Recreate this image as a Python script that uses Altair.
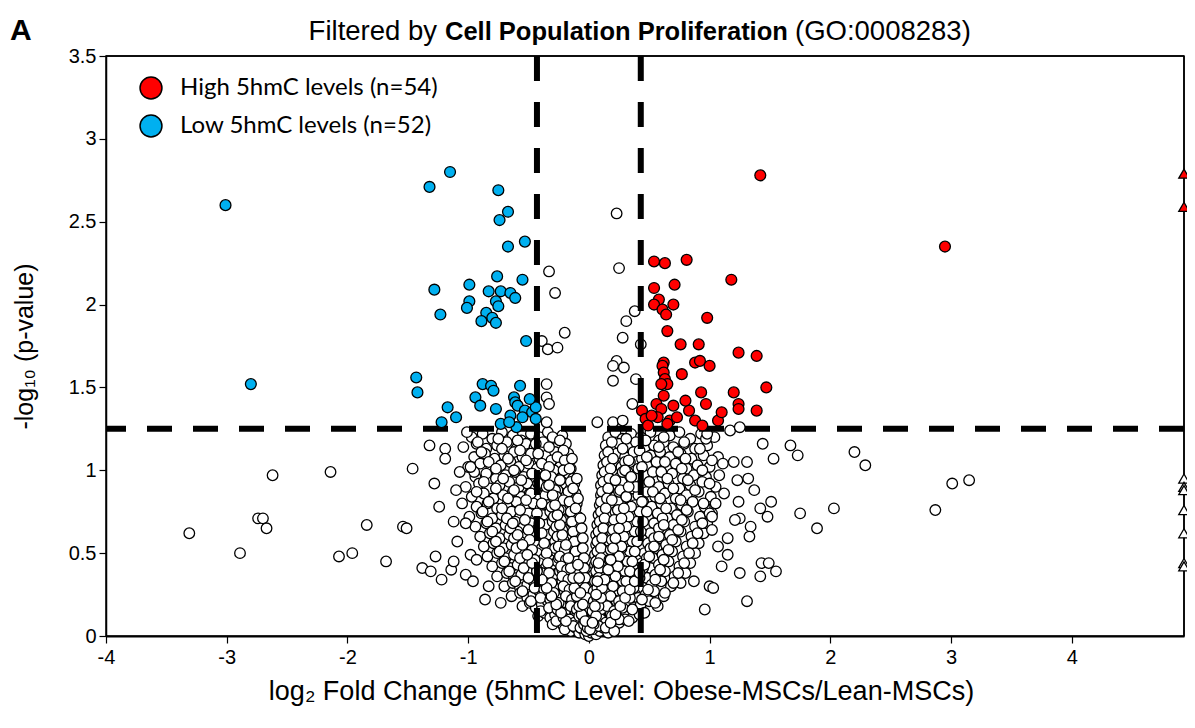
import altair as alt
import pandas as pd

# ---------------- values ----------------
X_DOMAIN = [-4, 4.93]
Y_DOMAIN = [0, 3.5]
X_TICKS = [-4, -3, -2, -1, 0, 1, 2, 3, 4]
Y_TICKS = [0, 0.5, 1, 1.5, 2, 2.5, 3, 3.5]
P_THRESHOLD = 1.25
FC_THRESHOLDS = [-0.43, 0.43]

HIGH_LABEL = "High 5hmC levels (n=54)"
LOW_LABEL = "Low 5hmC levels (n=52)"

HIGH = [
    (1.42, 2.78), (1.18, 2.15), (0.54, 2.26), (0.63, 2.25), (0.81, 2.27),
    (0.54, 2.10), (0.71, 2.12), (0.58, 2.03), (0.54, 2.00), (0.61, 1.97),
    (0.70, 2.00), (0.64, 1.94), (0.98, 1.92), (0.65, 1.84), (0.76, 1.76),
    (0.91, 1.76), (1.24, 1.71), (1.39, 1.69), (0.62, 1.65), (0.61, 1.63),
    (0.88, 1.65), (0.92, 1.66), (1.00, 1.63), (0.77, 1.58), (0.62, 1.59),
    (0.63, 1.55), (0.65, 1.52), (0.60, 1.52), (1.47, 1.50), (0.93, 1.47),
    (1.20, 1.47), (0.97, 1.40), (1.24, 1.40), (1.24, 1.37), (1.39, 1.36),
    (0.56, 1.40), (0.60, 1.37), (0.70, 1.39), (0.83, 1.36), (0.44, 1.36),
    (0.47, 1.31), (0.57, 1.32), (0.67, 1.30), (0.88, 1.30), (1.07, 1.30),
    (0.49, 1.27), (0.65, 1.28), (0.94, 1.27), (2.95, 2.35), (0.52, 1.33),
    (0.73, 1.32), (0.80, 1.42), (1.10, 1.35), (0.62, 1.45),
]

LOW = [
    (-1.15, 2.80), (-1.32, 2.71), (-0.75, 2.69), (-0.67, 2.56), (-0.74, 2.51),
    (-0.53, 2.38), (-0.67, 2.35), (-0.76, 2.17), (-0.55, 2.15), (-1.28, 2.09),
    (-0.99, 2.12), (-0.83, 2.08), (-0.73, 2.08), (-0.65, 2.07), (-0.61, 2.04),
    (-0.77, 2.02), (-0.75, 1.99), (-0.99, 2.02), (-1.01, 1.98), (-1.23, 1.94),
    (-0.85, 1.95), (-0.80, 1.92), (-0.89, 1.90), (-0.77, 1.89), (-0.52, 1.78),
    (-1.43, 1.56), (-1.42, 1.47), (-0.88, 1.52), (-0.81, 1.51), (-0.79, 1.48),
    (-0.94, 1.44), (-0.57, 1.51), (-0.62, 1.44), (-0.90, 1.39), (-0.77, 1.37),
    (-0.61, 1.41), (-0.59, 1.39), (-0.53, 1.36), (-0.47, 1.35), (-0.44, 1.38),
    (-0.65, 1.33), (-0.55, 1.32), (-0.44, 1.31), (-1.17, 1.38), (-1.10, 1.32),
    (-1.22, 1.29), (-0.73, 1.28), (-0.60, 1.26), (-3.01, 2.60), (-2.80, 1.52),
    (-0.49, 1.43), (-0.66, 1.29),
]

# not significant, above the p threshold but inside the fold-change lines
NS_ABOVE = [
    (0.23, 2.55), (0.25, 2.22), (-0.33, 2.20), (-0.28, 2.07), (-0.20, 1.83),
    (-0.39, 1.78), (-0.34, 1.73), (-0.26, 1.74), (0.28, 1.80), (0.31, 1.90),
    (0.38, 1.96), (0.43, 1.76), (0.23, 1.66), (0.20, 1.63), (0.29, 1.62),
    (0.20, 1.54), (0.39, 1.55), (-0.35, 1.52), (-0.35, 1.44), (-0.33, 1.40),
    (0.36, 1.40), (-0.35, 1.29), (0.07, 1.29), (0.20, 1.29), (0.28, 1.30),
]

NS_LEFT_OUT = [
    (-3.31, 0.62), (-2.89, 0.50), (-2.74, 0.71), (-2.70, 0.71), (-2.67, 0.65),
    (-2.62, 0.97), (-2.14, 0.99), (-2.07, 0.48), (-1.96, 0.50), (-1.84, 0.67),
    (-1.68, 0.45), (-1.54, 0.66), (-1.51, 0.65), (-1.46, 1.01), (-1.38, 0.41),
    (-1.32, 1.15), (-1.28, 0.92), (-1.31, 0.39), (-1.27, 0.48), (-1.24, 0.78),
    (-1.22, 0.34), (-1.19, 1.13), (-1.19, 1.07), (-1.14, 0.40), (-1.12, 0.45),
    (-1.12, 0.69), (-1.10, 0.88), (-1.07, 0.99), (-1.02, 0.68), (-1.02, 0.37),
    (-0.98, 1.02), (-0.98, 0.49), (-0.96, 0.33), (-0.93, 0.46), (-0.83, 0.30),
    (-0.86, 0.22), (-0.73, 0.20), (-1.01, 1.23), (-1.09, 0.57), (-1.05, 0.80),
]

NS_RIGHT_OUT = [
    (1.44, 1.16), (1.67, 1.15), (1.53, 1.07), (1.31, 1.05), (1.20, 1.05),
    (1.23, 0.94), (1.32, 0.95), (1.37, 0.88), (1.51, 0.81), (1.42, 0.77),
    (1.48, 0.72), (1.24, 0.81), (1.25, 0.71), (1.21, 0.70), (1.34, 0.66),
    (1.33, 0.60), (1.02, 0.72), (1.02, 0.64), (1.15, 0.59), (1.07, 0.54),
    (1.10, 0.42), (1.25, 0.38), (1.43, 0.44), (1.49, 0.44), (1.55, 0.39),
    (1.42, 0.36), (1.31, 0.21), (0.96, 0.16), (1.00, 0.30), (1.03, 0.29),
    (0.87, 0.33), (1.11, 1.04), (1.17, 1.24), (1.25, 1.26), (0.98, 1.22),
    (1.73, 1.09), (2.20, 1.11), (2.29, 1.03), (1.75, 0.74), (1.89, 0.65),
    (2.03, 0.77), (2.87, 0.76), (3.01, 0.92), (3.15, 0.94), (1.12, 0.86),
    (1.15, 0.49), (1.08, 0.97),
]

NS_CLOUD_UPPER = [
    (-0.97, 1.20), (-0.88, 1.22), (-0.80, 1.19), (-0.72, 1.23), (-0.63, 1.21), (-0.56, 1.18),
    (-0.48, 1.22), (-0.41, 1.20), (-0.34, 1.23), (-0.28, 1.19), (-0.22, 1.21),
    (0.16, 1.20), (0.22, 1.23), (0.28, 1.19), (0.35, 1.22), (0.43, 1.20), (0.51, 1.23),
    (0.58, 1.18), (0.67, 1.21), (0.75, 1.23), (0.84, 1.19), (0.93, 1.22), (1.04, 1.20),
    (-1.04, 1.14), (-0.93, 1.16), (-0.85, 1.13), (-0.76, 1.15), (-0.68, 1.17), (-0.60, 1.13),
    (-0.52, 1.16), (-0.45, 1.14), (-0.38, 1.17), (-0.31, 1.13), (-0.25, 1.15), (-0.19, 1.16),
    (0.14, 1.15), (0.19, 1.13), (0.25, 1.16), (0.32, 1.14), (0.39, 1.17), (0.46, 1.13),
    (0.54, 1.15), (0.62, 1.17), (0.70, 1.14), (0.79, 1.16), (0.88, 1.13), (0.98, 1.15),
    (-0.95, 1.08), (-0.86, 1.10), (-0.78, 1.07), (-0.70, 1.09), (-0.62, 1.11), (-0.55, 1.08),
    (-0.48, 1.10), (-0.41, 1.07), (-0.35, 1.09), (-0.28, 1.11), (-0.22, 1.08), (-0.17, 1.10),
    (0.13, 1.09), (0.18, 1.07), (0.23, 1.10), (0.30, 1.08), (0.37, 1.11), (0.44, 1.07),
    (0.51, 1.09), (0.59, 1.11), (0.67, 1.08), (0.76, 1.10), (0.85, 1.07), (0.95, 1.09), (1.07, 1.08),
    (-1.00, 1.02), (-0.90, 1.04), (-0.81, 1.01), (-0.73, 1.03), (-0.65, 1.05), (-0.58, 1.02),
    (-0.50, 1.04), (-0.43, 1.01), (-0.37, 1.03), (-0.30, 1.05), (-0.24, 1.02), (-0.18, 1.04), (-0.15, 1.01),
    (0.12, 1.03), (0.16, 1.01), (0.21, 1.04), (0.27, 1.02), (0.34, 1.05), (0.41, 1.01),
    (0.48, 1.03), (0.56, 1.05), (0.64, 1.02), (0.72, 1.04), (0.81, 1.01), (0.90, 1.03), (1.00, 1.02),
    (-0.94, 0.96), (-0.85, 0.98), (-0.77, 0.95), (-0.69, 0.97), (-0.61, 0.99), (-0.54, 0.96),
    (-0.47, 0.98), (-0.40, 0.95), (-0.34, 0.97), (-0.28, 0.99), (-0.22, 0.96), (-0.17, 0.98), (-0.13, 0.95),
    (0.11, 0.97), (0.15, 0.95), (0.20, 0.98), (0.26, 0.96), (0.32, 0.99), (0.39, 0.95),
    (0.46, 0.97), (0.53, 0.99), (0.61, 0.96), (0.69, 0.98), (0.78, 0.95), (0.87, 0.97), (0.97, 0.96),
    (-1.02, 0.90), (-0.91, 0.92), (-0.82, 0.89), (-0.74, 0.91), (-0.66, 0.93), (-0.58, 0.90),
    (-0.51, 0.92), (-0.44, 0.89), (-0.38, 0.91), (-0.32, 0.93), (-0.26, 0.90), (-0.20, 0.92),
    (-0.15, 0.89), (-0.12, 0.92),
    (0.10, 0.91), (0.14, 0.89), (0.19, 0.92), (0.24, 0.90), (0.30, 0.93), (0.36, 0.89),
    (0.43, 0.91), (0.50, 0.93), (0.58, 0.90), (0.66, 0.92), (0.75, 0.89), (0.84, 0.91), (0.94, 0.93), (1.05, 0.90),
]

NS_CLOUD_MIDDLE = [
    (-0.97, 0.84), (-0.87, 0.86), (-0.79, 0.83), (-0.71, 0.85), (-0.63, 0.87), (-0.56, 0.84),
    (-0.49, 0.86), (-0.42, 0.83), (-0.36, 0.85), (-0.30, 0.87), (-0.24, 0.84), (-0.19, 0.86),
    (-0.14, 0.83), (-0.11, 0.86),
    (0.10, 0.85), (0.13, 0.83), (0.17, 0.86), (0.22, 0.84), (0.28, 0.87), (0.34, 0.83),
    (0.41, 0.85), (0.48, 0.87), (0.55, 0.84), (0.63, 0.86), (0.72, 0.83), (0.81, 0.85), (0.91, 0.87), (1.01, 0.84),
    (-0.93, 0.78), (-0.84, 0.80), (-0.76, 0.77), (-0.68, 0.79), (-0.60, 0.81), (-0.53, 0.78),
    (-0.46, 0.80), (-0.40, 0.77), (-0.34, 0.79), (-0.28, 0.81), (-0.23, 0.78), (-0.18, 0.80),
    (-0.13, 0.77), (-0.10, 0.80),
    (0.09, 0.79), (0.12, 0.77), (0.16, 0.80), (0.21, 0.78), (0.26, 0.81), (0.32, 0.77),
    (0.38, 0.79), (0.45, 0.81), (0.52, 0.78), (0.60, 0.80), (0.68, 0.77), (0.77, 0.79), (0.86, 0.81), (0.96, 0.78), (1.05, 0.80),
    (-0.99, 0.72), (-0.89, 0.74), (-0.80, 0.71), (-0.72, 0.73), (-0.64, 0.75), (-0.57, 0.72),
    (-0.50, 0.74), (-0.44, 0.71), (-0.38, 0.73), (-0.32, 0.75), (-0.26, 0.72), (-0.21, 0.74),
    (-0.16, 0.71), (-0.12, 0.74), (-0.09, 0.72),
    (0.08, 0.73), (0.11, 0.71), (0.15, 0.74), (0.19, 0.72), (0.24, 0.75), (0.30, 0.71),
    (0.36, 0.73), (0.42, 0.75), (0.49, 0.72), (0.57, 0.74), (0.65, 0.71), (0.73, 0.73), (0.82, 0.75), (0.92, 0.72), (1.02, 0.74),
    (-0.94, 0.66), (-0.85, 0.68), (-0.77, 0.65), (-0.69, 0.67), (-0.61, 0.69), (-0.54, 0.66),
    (-0.48, 0.68), (-0.42, 0.65), (-0.36, 0.67), (-0.30, 0.69), (-0.25, 0.66), (-0.20, 0.68),
    (-0.15, 0.65), (-0.11, 0.68), (-0.08, 0.66),
    (0.07, 0.67), (0.10, 0.65), (0.14, 0.68), (0.18, 0.66), (0.23, 0.69), (0.28, 0.65),
    (0.34, 0.67), (0.40, 0.69), (0.47, 0.66), (0.54, 0.68), (0.62, 0.65), (0.70, 0.67), (0.79, 0.69), (0.88, 0.66), (0.98, 0.68),
    (-0.90, 0.60), (-0.82, 0.62), (-0.74, 0.59), (-0.66, 0.61), (-0.59, 0.63), (-0.52, 0.60),
    (-0.46, 0.62), (-0.40, 0.59), (-0.34, 0.61), (-0.29, 0.63), (-0.24, 0.60), (-0.19, 0.62),
    (-0.14, 0.59), (-0.10, 0.62), (-0.07, 0.60),
    (0.06, 0.61), (0.09, 0.59), (0.13, 0.62), (0.17, 0.60), (0.21, 0.63), (0.26, 0.59),
    (0.32, 0.61), (0.38, 0.63), (0.44, 0.60), (0.51, 0.62), (0.59, 0.59), (0.67, 0.61), (0.76, 0.63), (0.85, 0.60), (0.95, 0.62),
    (-0.87, 0.54), (-0.79, 0.56), (-0.71, 0.53), (-0.64, 0.55), (-0.57, 0.57), (-0.51, 0.54),
    (-0.45, 0.56), (-0.39, 0.53), (-0.33, 0.55), (-0.28, 0.57), (-0.23, 0.54), (-0.18, 0.56),
    (-0.14, 0.53), (-0.10, 0.56), (-0.07, 0.54),
    (0.06, 0.55), (0.09, 0.53), (0.12, 0.56), (0.16, 0.54), (0.20, 0.57), (0.25, 0.53),
    (0.30, 0.55), (0.36, 0.57), (0.42, 0.54), (0.49, 0.56), (0.56, 0.53), (0.64, 0.55), (0.72, 0.57), (0.81, 0.54), (0.91, 0.56),
]

NS_CLOUD_LOWER = [
    (-0.84, 0.48), (-0.76, 0.50), (-0.69, 0.47), (-0.62, 0.49), (-0.55, 0.51), (-0.49, 0.48),
    (-0.43, 0.50), (-0.37, 0.47), (-0.32, 0.49), (-0.27, 0.51), (-0.22, 0.48), (-0.17, 0.50),
    (-0.13, 0.47), (-0.09, 0.50), (-0.06, 0.48),
    (0.05, 0.49), (0.08, 0.47), (0.11, 0.50), (0.15, 0.48), (0.19, 0.51), (0.23, 0.47),
    (0.28, 0.49), (0.34, 0.51), (0.40, 0.48), (0.46, 0.50), (0.53, 0.47), (0.61, 0.49), (0.69, 0.51), (0.78, 0.48), (0.88, 0.50),
    (-0.80, 0.42), (-0.72, 0.44), (-0.65, 0.41), (-0.59, 0.43), (-0.53, 0.45), (-0.47, 0.42),
    (-0.41, 0.44), (-0.36, 0.41), (-0.31, 0.43), (-0.26, 0.45), (-0.21, 0.42), (-0.16, 0.44),
    (-0.12, 0.41), (-0.08, 0.44), (-0.05, 0.42),
    (0.05, 0.43), (0.07, 0.41), (0.10, 0.44), (0.14, 0.42), (0.18, 0.45), (0.22, 0.41),
    (0.27, 0.43), (0.32, 0.45), (0.38, 0.42), (0.44, 0.44), (0.51, 0.41), (0.58, 0.43), (0.66, 0.45), (0.75, 0.42), (0.84, 0.44),
    (-0.76, 0.36), (-0.68, 0.38), (-0.62, 0.35), (-0.56, 0.37), (-0.50, 0.39), (-0.44, 0.36),
    (-0.39, 0.38), (-0.34, 0.35), (-0.29, 0.37), (-0.24, 0.39), (-0.20, 0.36), (-0.15, 0.38),
    (-0.11, 0.35), (-0.07, 0.38), (-0.04, 0.36),
    (0.04, 0.37), (0.06, 0.35), (0.09, 0.38), (0.13, 0.36), (0.17, 0.39), (0.21, 0.35),
    (0.25, 0.37), (0.30, 0.39), (0.36, 0.36), (0.42, 0.38), (0.48, 0.35), (0.55, 0.37), (0.63, 0.39), (0.71, 0.36), (0.80, 0.38),
    (-0.70, 0.30), (-0.63, 0.32), (-0.57, 0.29), (-0.51, 0.31), (-0.46, 0.33), (-0.41, 0.30),
    (-0.36, 0.32), (-0.31, 0.29), (-0.27, 0.31), (-0.22, 0.33), (-0.18, 0.30), (-0.14, 0.32),
    (-0.10, 0.29), (-0.07, 0.32), (-0.04, 0.30),
    (0.04, 0.31), (0.06, 0.29), (0.09, 0.32), (0.12, 0.30), (0.15, 0.33), (0.19, 0.29),
    (0.23, 0.31), (0.28, 0.33), (0.33, 0.30), (0.39, 0.32), (0.45, 0.29), (0.52, 0.31), (0.60, 0.33), (0.68, 0.30), (0.76, 0.32),
    (-0.64, 0.24), (-0.57, 0.26), (-0.51, 0.23), (-0.46, 0.25), (-0.41, 0.27), (-0.36, 0.24),
    (-0.32, 0.26), (-0.28, 0.23), (-0.24, 0.25), (-0.20, 0.27), (-0.16, 0.24), (-0.12, 0.26),
    (-0.09, 0.23), (-0.06, 0.26), (-0.03, 0.24),
    (0.03, 0.25), (0.05, 0.23), (0.08, 0.26), (0.11, 0.24), (0.14, 0.27), (0.17, 0.23),
    (0.21, 0.25), (0.25, 0.27), (0.30, 0.24), (0.35, 0.26), (0.41, 0.23), (0.47, 0.25), (0.54, 0.27), (0.62, 0.24),
    (-0.55, 0.18), (-0.49, 0.20), (-0.44, 0.17), (-0.39, 0.19), (-0.34, 0.21), (-0.30, 0.18),
    (-0.26, 0.20), (-0.22, 0.17), (-0.18, 0.19), (-0.15, 0.21), (-0.12, 0.18), (-0.09, 0.20),
    (-0.06, 0.17), (-0.04, 0.20),
    (0.03, 0.19), (0.05, 0.17), (0.07, 0.20), (0.10, 0.18), (0.13, 0.21), (0.16, 0.17),
    (0.19, 0.19), (0.23, 0.21), (0.27, 0.18), (0.32, 0.20), (0.37, 0.17), (0.43, 0.19), (0.50, 0.21), (0.57, 0.18),
    (-0.42, 0.12), (-0.37, 0.14), (-0.32, 0.11), (-0.28, 0.13), (-0.24, 0.15), (-0.20, 0.12),
    (-0.17, 0.14), (-0.14, 0.11), (-0.11, 0.13), (-0.08, 0.15), (-0.06, 0.12), (-0.03, 0.14),
    (0.02, 0.13), (0.04, 0.11), (0.06, 0.14), (0.09, 0.12), (0.12, 0.15), (0.15, 0.11),
    (0.18, 0.13), (0.22, 0.15), (0.26, 0.12), (0.31, 0.14), (0.36, 0.11), (0.42, 0.13),
    (-0.30, 0.07), (-0.25, 0.09), (-0.21, 0.06), (-0.17, 0.08), (-0.14, 0.10), (-0.11, 0.07),
    (-0.08, 0.09), (-0.06, 0.06), (-0.03, 0.08), (-0.01, 0.10),
    (0.01, 0.07), (0.03, 0.09), (0.05, 0.06), (0.08, 0.08), (0.11, 0.10), (0.14, 0.07),
    (0.17, 0.09), (0.21, 0.06), (0.25, 0.08), (0.30, 0.10),
    (-0.15, 0.03), (-0.11, 0.05), (-0.08, 0.02), (-0.05, 0.04), (-0.03, 0.01), (-0.01, 0.03),
    (0.00, 0.00), (0.02, 0.02), (0.04, 0.04), (0.06, 0.01), (0.09, 0.03), (0.12, 0.05), (0.16, 0.02),
]

NS_CLOUD_INNER = [
    (-0.05, 0.15), (-0.07, 0.22), (-0.09, 0.28), (-0.11, 0.34), (-0.12, 0.40), (-0.14, 0.46),
    (-0.16, 0.52), (-0.18, 0.58), (-0.20, 0.64), (-0.21, 0.70), (-0.23, 0.76), (-0.25, 0.82),
    (-0.26, 0.88), (-0.27, 0.94), (-0.29, 1.00), (-0.31, 1.06),
    (0.05, 0.15), (0.07, 0.21), (0.09, 0.27), (0.10, 0.33), (0.12, 0.39), (0.14, 0.45),
    (0.15, 0.51), (0.17, 0.57), (0.19, 0.63), (0.20, 0.69), (0.22, 0.75), (0.24, 0.81),
    (0.25, 0.87), (0.27, 0.93), (0.28, 0.99), (0.30, 1.05),
    (-0.02, 0.06), (0.02, 0.05), (-0.04, 0.11), (0.04, 0.10), (-0.10, 0.12), (0.09, 0.14),
    (-0.13, 0.20), (0.12, 0.22), (-0.16, 0.26), (0.15, 0.29), (-0.19, 0.33), (0.18, 0.35),
    (-0.22, 0.40), (0.21, 0.41), (-0.25, 0.47), (0.24, 0.47), (-0.28, 0.53), (0.27, 0.53),
]

NS_CLOUD_EXTRA = [
    (-0.92, 1.17), (-0.75, 1.19), (-0.59, 1.18), (-0.44, 1.16), (-0.30, 1.20), (-0.24, 1.18),
    (0.19, 1.17), (0.31, 1.19), (0.47, 1.18), (0.62, 1.20), (0.79, 1.17), (0.97, 1.19),
    (-0.89, 1.11), (-0.72, 1.13), (-0.57, 1.12), (-0.42, 1.10), (-0.33, 1.14), (-0.21, 1.12),
    (0.16, 1.11), (0.28, 1.13), (0.42, 1.12), (0.58, 1.14), (0.74, 1.11), (0.92, 1.13),
    (-0.83, 1.05), (-0.67, 1.07), (-0.52, 1.06), (-0.39, 1.04), (-0.26, 1.08), (-0.20, 1.06), (-0.14, 1.07),
    (0.15, 1.05), (0.20, 1.07), (0.33, 1.06), (0.48, 1.08), (0.63, 1.05), (0.80, 1.07), (1.02, 1.06),
    (-0.95, 0.99), (-0.77, 1.01), (-0.62, 1.00), (-0.47, 0.98), (-0.33, 1.02), (-0.21, 1.00), (-0.16, 1.01),
    (0.13, 0.99), (0.18, 1.01), (0.30, 1.00), (0.44, 1.02), (0.60, 0.99), (0.77, 1.01), (0.94, 1.00),
    (-0.87, 0.93), (-0.71, 0.95), (-0.56, 0.94), (-0.42, 0.92), (-0.31, 0.96), (-0.24, 0.94),
    (-0.15, 0.93), (-0.10, 0.95),
    (0.12, 0.93), (0.17, 0.95), (0.22, 0.94), (0.35, 0.96), (0.50, 0.93), (0.65, 0.95), (0.82, 0.94), (1.00, 0.92),
    (-0.93, 0.87), (-0.77, 0.89), (-0.62, 0.88), (-0.48, 0.86), (-0.35, 0.90), (-0.28, 0.88),
    (-0.17, 0.87), (-0.13, 0.89),
    (0.11, 0.87), (0.16, 0.89), (0.26, 0.88), (0.39, 0.90), (0.53, 0.87), (0.70, 0.89), (0.88, 0.88),
    (-0.83, 0.81), (-0.67, 0.83), (-0.52, 0.82), (-0.39, 0.80), (-0.27, 0.84), (-0.21, 0.82),
    (-0.16, 0.81), (-0.09, 0.83),
    (0.10, 0.81), (0.15, 0.83), (0.19, 0.82), (0.31, 0.84), (0.44, 0.81), (0.59, 0.83), (0.76, 0.82), (0.95, 0.80),
    (-0.88, 0.75), (-0.72, 0.77), (-0.57, 0.76), (-0.43, 0.74), (-0.31, 0.78), (-0.25, 0.76),
    (-0.15, 0.75), (-0.11, 0.77),
    (0.10, 0.75), (0.14, 0.77), (0.24, 0.76), (0.35, 0.78), (0.48, 0.75), (0.64, 0.77), (0.81, 0.76), (1.00, 0.74),
    (-0.84, 0.69), (-0.68, 0.71), (-0.53, 0.70), (-0.41, 0.68), (-0.29, 0.72), (-0.23, 0.70),
    (-0.14, 0.69), (-0.07, 0.71),
    (0.09, 0.69), (0.13, 0.71), (0.21, 0.70), (0.33, 0.72), (0.45, 0.69), (0.61, 0.71), (0.77, 0.70), (0.94, 0.68),
    (-0.80, 0.63), (-0.65, 0.65), (-0.50, 0.64), (-0.39, 0.62), (-0.27, 0.66), (-0.22, 0.64),
    (-0.13, 0.63), (-0.06, 0.65),
    (0.08, 0.63), (0.12, 0.65), (0.20, 0.64), (0.31, 0.66), (0.43, 0.63), (0.58, 0.65), (0.74, 0.64), (0.90, 0.62),
    (-0.77, 0.57), (-0.62, 0.59), (-0.49, 0.58), (-0.37, 0.56), (-0.26, 0.60), (-0.21, 0.58),
    (-0.12, 0.57), (-0.05, 0.59),
    (0.07, 0.57), (0.11, 0.59), (0.19, 0.58), (0.29, 0.60), (0.40, 0.57), (0.54, 0.59), (0.69, 0.58), (0.86, 0.56),
    (-0.74, 0.51), (-0.60, 0.53), (-0.47, 0.52), (-0.35, 0.50), (-0.25, 0.54), (-0.20, 0.52),
    (-0.11, 0.51), (-0.05, 0.53),
    (0.07, 0.51), (0.10, 0.53), (0.18, 0.52), (0.27, 0.54), (0.38, 0.51), (0.51, 0.53), (0.66, 0.52), (0.83, 0.50),
    (-0.70, 0.45), (-0.57, 0.47), (-0.45, 0.46), (-0.34, 0.44), (-0.24, 0.48), (-0.19, 0.46),
    (-0.10, 0.45), (-0.04, 0.47),
    (0.06, 0.45), (0.10, 0.47), (0.17, 0.46), (0.25, 0.48), (0.36, 0.45), (0.48, 0.47), (0.62, 0.46), (0.79, 0.44),
    (-0.66, 0.39), (-0.54, 0.41), (-0.43, 0.40), (-0.33, 0.38), (-0.23, 0.42), (-0.18, 0.40),
    (-0.10, 0.39), (-0.04, 0.41),
    (0.06, 0.39), (0.09, 0.41), (0.16, 0.40), (0.24, 0.42), (0.34, 0.39), (0.45, 0.41), (0.59, 0.40), (0.74, 0.38),
    (-0.61, 0.33), (-0.50, 0.35), (-0.41, 0.34), (-0.31, 0.32), (-0.22, 0.36), (-0.17, 0.34),
    (-0.09, 0.33), (-0.03, 0.35),
    (0.05, 0.33), (0.08, 0.35), (0.15, 0.34), (0.22, 0.36), (0.31, 0.33), (0.42, 0.35), (0.55, 0.34), (0.70, 0.32),
    (-0.55, 0.27), (-0.45, 0.29), (-0.37, 0.28), (-0.29, 0.26), (-0.21, 0.30), (-0.16, 0.28),
    (-0.08, 0.27), (-0.03, 0.29),
    (0.04, 0.27), (0.07, 0.29), (0.13, 0.28), (0.20, 0.30), (0.28, 0.27), (0.37, 0.29), (0.49, 0.28), (0.63, 0.26),
    (-0.48, 0.21), (-0.40, 0.23), (-0.32, 0.22), (-0.25, 0.20), (-0.19, 0.24), (-0.14, 0.22),
    (-0.07, 0.21), (-0.02, 0.23),
    (0.04, 0.21), (0.07, 0.23), (0.12, 0.22), (0.18, 0.24), (0.25, 0.21), (0.34, 0.23), (0.44, 0.22), (0.55, 0.20),
    (-0.40, 0.15), (-0.33, 0.17), (-0.26, 0.16), (-0.20, 0.14), (-0.15, 0.18), (-0.10, 0.16),
    (-0.05, 0.15), (-0.02, 0.17),
    (0.03, 0.15), (0.06, 0.17), (0.10, 0.16), (0.15, 0.18), (0.21, 0.15), (0.28, 0.17), (0.36, 0.16), (0.46, 0.14),
    (-0.27, 0.09), (-0.21, 0.11), (-0.16, 0.10), (-0.12, 0.08), (-0.08, 0.12), (-0.04, 0.10),
    (0.02, 0.09), (0.06, 0.11), (0.10, 0.10), (0.14, 0.08), (0.19, 0.12), (0.25, 0.10), (0.33, 0.09),
    (-0.20, 0.04), (-0.13, 0.06), (-0.07, 0.05), (-0.02, 0.03),
    (0.03, 0.04), (0.08, 0.06), (0.14, 0.05), (0.21, 0.03),
]

NS_CLOUD_CORE = [
    (-0.04, 0.07), (-0.06, 0.13), (-0.08, 0.18), (-0.10, 0.24), (-0.12, 0.29), (-0.13, 0.35),
    (-0.15, 0.41), (-0.17, 0.47), (-0.19, 0.55), (-0.22, 0.61), (-0.24, 0.67), (-0.26, 0.73),
    (-0.28, 0.79), (-0.30, 0.85), (-0.33, 0.91), (-0.36, 0.97),
    (0.04, 0.07), (0.06, 0.12), (0.08, 0.18), (0.10, 0.23), (0.11, 0.29), (0.13, 0.34),
    (0.16, 0.40), (0.18, 0.46), (0.20, 0.53), (0.22, 0.59), (0.25, 0.65), (0.27, 0.71),
    (0.29, 0.77), (0.31, 0.84), (0.33, 0.90), (0.35, 0.96),
    (-0.19, 0.09), (-0.23, 0.14), (-0.27, 0.19), (-0.31, 0.24), (-0.35, 0.29), (-0.39, 0.34),
    (-0.43, 0.39), (-0.47, 0.44), (-0.51, 0.49), (-0.55, 0.55), (-0.59, 0.61), (-0.63, 0.68),
    (0.18, 0.08), (0.22, 0.13), (0.26, 0.18), (0.30, 0.23), (0.34, 0.28), (0.38, 0.33),
    (0.42, 0.38), (0.46, 0.43), (0.50, 0.48), (0.54, 0.54), (0.58, 0.60), (0.62, 0.67),
    (-0.01, 0.05), (0.01, 0.04), (-0.03, 0.09), (0.03, 0.08), (-0.05, 0.19), (0.05, 0.18),
    (-0.07, 0.26), (0.06, 0.25), (-0.08, 0.35), (0.07, 0.33), (-0.09, 0.43), (0.08, 0.44),
]

TRI_HIGH_Y = [2.79, 2.59]
TRI_NS_Y = [0.95, 0.90, 0.88, 0.76, 0.62, 0.44, 0.42]

# ---------------- tables ----------------
def frame(points, group):
    return pd.DataFrame({"x": [p[0] for p in points], "y": [p[1] for p in points], "grp": group})

ns_df = pd.concat([
    frame(NS_CLOUD_UPPER, "ns"), frame(NS_CLOUD_MIDDLE, "ns"), frame(NS_CLOUD_LOWER, "ns"),
    frame(NS_CLOUD_INNER, "ns"), frame(NS_CLOUD_EXTRA, "ns"), frame(NS_CLOUD_CORE, "ns"),
    frame(NS_LEFT_OUT, "ns"), frame(NS_RIGHT_OUT, "ns"), frame(NS_ABOVE, "ns"),
], ignore_index=True)
sig_df = pd.concat([frame(HIGH, HIGH_LABEL), frame(LOW, LOW_LABEL)], ignore_index=True)
tri_high_df = pd.DataFrame({"x": [X_DOMAIN[1]] * len(TRI_HIGH_Y), "y": TRI_HIGH_Y})
tri_ns_df = pd.DataFrame({"x": [X_DOMAIN[1]] * len(TRI_NS_Y), "y": TRI_NS_Y})
vline_df = pd.DataFrame({"x": FC_THRESHOLDS})
hline_df = pd.DataFrame({"y": [P_THRESHOLD]})
top_df = pd.DataFrame({"y": [Y_DOMAIN[1]]})
right_df = pd.DataFrame({"x": [X_DOMAIN[1]]})

FONT = "Liberation Sans"

x_enc = alt.X(
    "x:Q",
    scale=alt.Scale(domain=X_DOMAIN, nice=False, zero=False),
    axis=alt.Axis(
        values=X_TICKS, labelExpr="'' + datum.value", grid=False, labelFlush=False,
        title="log\u2082 Fold Change (5hmC Level: Obese-MSCs/Lean-MSCs)",
        titleFont=FONT, titleFontSize=27, titleFontWeight="normal", titleColor="black",
        titleX=515, titleY=42, titleBaseline="top",
        labelFont=FONT, labelFontSize=20, labelColor="black", labelPadding=4,
        tickSize=7, tickColor="black", tickWidth=1.2,
        domainColor="black", domainWidth=2.2,
    ),
)
y_enc = alt.Y(
    "y:Q",
    scale=alt.Scale(domain=Y_DOMAIN, nice=False, zero=True),
    axis=alt.Axis(
        values=Y_TICKS, labelExpr="'' + datum.value", grid=False, labelFlush=False,
        title="-log\u2081\u2080 (p-value)",
        titleFont=FONT, titleFontSize=25, titleFontWeight="normal", titleColor="black",
        titleX=-69, titleBaseline="bottom",
        labelFont=FONT, labelFontSize=20, labelColor="black", labelPadding=3,
        tickSize=7, tickColor="black", tickWidth=1.2,
        domainColor="black", domainWidth=1.5,
    ),
)

ns_layer = alt.Chart(ns_df).mark_point(
    shape="circle", filled=True, fill="white", stroke="black", strokeWidth=1.3, size=112, opacity=1
).encode(x=x_enc, y=y_enc)

top_rule = alt.Chart(top_df).mark_rule(color="black", strokeWidth=1.5).encode(y="y:Q")
right_rule = alt.Chart(right_df).mark_rule(color="black", strokeWidth=1.5).encode(x="x:Q")

vlines = alt.Chart(vline_df).mark_rule(
    color="black", strokeWidth=6, strokeDash=[25, 21]
).encode(x="x:Q")

hline = alt.Chart(hline_df).mark_rule(
    color="black", strokeWidth=6, strokeDash=[25, 21]
).encode(y="y:Q")

tri_ns = alt.Chart(tri_ns_df).mark_point(
    shape="triangle-up", filled=True, fill="white", stroke="black", strokeWidth=1.3, size=110, opacity=1
).encode(x="x:Q", y="y:Q")

tri_high = alt.Chart(tri_high_df).mark_point(
    shape="triangle-up", filled=True, fill="#FF0000", stroke="black", strokeWidth=1.3, size=110, opacity=1
).encode(x="x:Q", y="y:Q")

sig_layer = alt.Chart(sig_df).mark_point(
    shape="circle", filled=True, stroke="black", strokeWidth=1.3, size=118, opacity=1
).encode(
    x="x:Q", y="y:Q",
    color=alt.Color(
        "grp:N",
        scale=alt.Scale(domain=[HIGH_LABEL, LOW_LABEL], range=["#FF0000", "#00B0F0"]),
        legend=alt.Legend(
            title=None, orient="none", legendX=33, legendY=20, padding=0,
            symbolType="circle", symbolSize=480, symbolStrokeColor="black",
            symbolStrokeWidth=1.5, symbolOpacity=1,
            labelFont="Lato", labelFontSize=24, labelColor="black",
            labelOffset=17, rowPadding=10, labelLimit=400,
        ),
    ),
)

title_df = pd.DataFrame({"t": ["title"]})
t1 = alt.Chart(title_df).mark_text(
    font=FONT, fontSize=27.5, align="right", baseline="alphabetic", color="black"
).encode(x=alt.value(331), y=alt.value(-16), text=alt.value("Filtered by"))
t2 = alt.Chart(title_df).mark_text(
    font=FONT, fontSize=25.5, fontWeight="bold", align="left", baseline="alphabetic", color="black"
).encode(x=alt.value(339), y=alt.value(-16), text=alt.value("Cell Population Proliferation"))
t3 = alt.Chart(title_df).mark_text(
    font=FONT, fontSize=27.5, align="left", baseline="alphabetic", color="black"
).encode(x=alt.value(689), y=alt.value(-16), text=alt.value("(GO:0008283)"))
panel = alt.Chart(title_df).mark_text(
    font=FONT, fontSize=30, fontWeight="bold", align="left", baseline="alphabetic", color="black"
).encode(x=alt.value(-96), y=alt.value(-16), text=alt.value("A"))

chart = alt.layer(
    ns_layer, top_rule, right_rule, vlines, hline, tri_ns, tri_high, sig_layer, t1, t2, t3, panel
).properties(
    width=1078, height=580, background="white",
    padding={"left": 98, "top": 48, "right": 3, "bottom": 80},
    autosize=alt.AutoSizeParams(type="none"),
).configure_view(
    stroke="black", strokeWidth=1.5
)

chart.save("out.html", embed_options={"renderer": "svg", "actions": False})
